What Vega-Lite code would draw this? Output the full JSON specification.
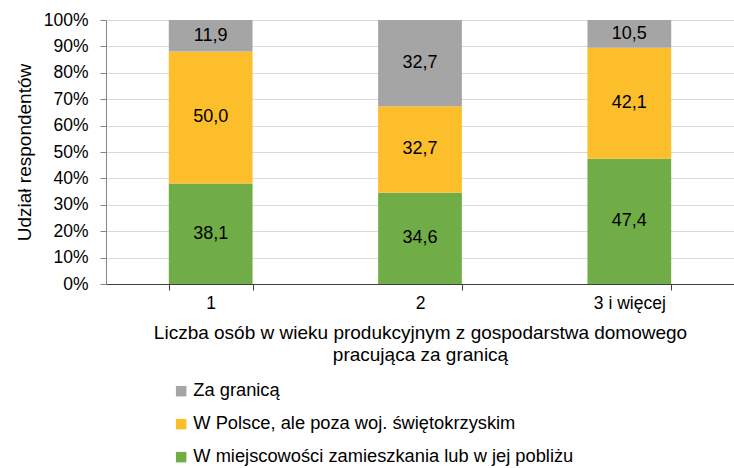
{
  "$schema": "https://vega.github.io/schema/vega-lite/v6.json",
  "autosize": {"type": "none"},
  "width": 628,
  "height": 264,
  "padding": {"left": 106, "top": 20, "right": 0, "bottom": 184},
  "background": "white",
  "config": {
    "font": "Liberation Sans",
    "view": {"stroke": null},
    "locale": {"number": {"decimal": ",", "thousands": " ", "grouping": [3], "currency": ["", " zł"]}},
    "axis": {"labelFont": "Liberation Sans", "titleFont": "Liberation Sans", "labelFontSize": 17.5, "titleFontSize": 19, "labelColor": "#000000", "titleColor": "#000000", "titleFontWeight": "normal", "labelOverlap": false, "labelLimit": 0},
    "legend": {"labelFont": "Liberation Sans", "labelFontSize": 18.3, "labelColor": "#000000", "labelLimit": 0}
  },
  "data": {
    "values": [
      {"grupa": "1", "miejsce": "W miejscowości zamieszkania lub w jej pobliżu", "kolejnosc": 1, "udzial": 38.1},
      {"grupa": "1", "miejsce": "W Polsce, ale poza woj. świętokrzyskim", "kolejnosc": 2, "udzial": 50.0},
      {"grupa": "1", "miejsce": "Za granicą", "kolejnosc": 3, "udzial": 11.9},
      {"grupa": "2", "miejsce": "W miejscowości zamieszkania lub w jej pobliżu", "kolejnosc": 1, "udzial": 34.6},
      {"grupa": "2", "miejsce": "W Polsce, ale poza woj. świętokrzyskim", "kolejnosc": 2, "udzial": 32.7},
      {"grupa": "2", "miejsce": "Za granicą", "kolejnosc": 3, "udzial": 32.7},
      {"grupa": "3 i więcej", "miejsce": "W miejscowości zamieszkania lub w jej pobliżu", "kolejnosc": 1, "udzial": 47.4},
      {"grupa": "3 i więcej", "miejsce": "W Polsce, ale poza woj. świętokrzyskim", "kolejnosc": 2, "udzial": 42.1},
      {"grupa": "3 i więcej", "miejsce": "Za granicą", "kolejnosc": 3, "udzial": 10.5}
    ]
  },
  "transform": [
    {"stack": "udzial", "groupby": ["grupa"], "sort": [{"field": "kolejnosc", "order": "ascending"}], "offset": "normalize", "as": ["y0", "y1"]},
    {"calculate": "(datum.y0 + datum.y1) / 2", "as": "ymid"}
  ],
  "encoding": {
    "x": {
      "field": "grupa",
      "type": "nominal",
      "sort": ["1", "2", "3 i więcej"],
      "scale": {"paddingInner": 0.6, "paddingOuter": 0.3},
      "axis": {
        "title": ["Liczba osób w wieku produkcyjnym z gospodarstwa domowego", "pracująca za granicą"],
        "labelAngle": 0,
        "tickBand": "extent",
        "domainColor": "#404040",
        "tickColor": "#404040",
        "tickSize": 6,
        "labelPadding": 4,
        "titlePadding": 12,
        "titleLineHeight": 22,
        "grid": false
      }
    }
  },
  "layer": [
    {
      "mark": {"type": "bar"},
      "encoding": {
        "y": {
          "field": "y0",
          "type": "quantitative",
          "scale": {"domain": [0, 1], "nice": false},
          "axis": {
            "title": "Udział respondentów",
            "format": ".0%",
            "values": [0, 0.1, 0.2, 0.3, 0.4, 0.5, 0.6, 0.7, 0.8, 0.9, 1],
            "labelOverlap": false,
            "grid": true,
            "gridColor": "#D9D9D9",
            "gridWidth": 1,
            "domainColor": "#868686",
            "tickColor": "#868686",
            "tickSize": 6,
            "labelPadding": 12,
            "titlePadding": 9
          }
        },
        "y2": {"field": "y1"},
        "color": {
          "field": "miejsce",
          "type": "nominal",
          "scale": {
            "domain": ["Za granicą", "W Polsce, ale poza woj. świętokrzyskim", "W miejscowości zamieszkania lub w jej pobliżu"],
            "range": ["#A5A5A5", "#FDBE2C", "#70AD47"]
          },
          "legend": {
            "title": null,
            "orient": "none",
            "legendX": 66,
            "legendY": 362,
            "direction": "vertical",
            "symbolType": "square",
            "symbolSize": 110,
            "symbolStrokeWidth": 0,
            "labelOffset": 3,
            "rowPadding": 14,
            "padding": 0
          }
        }
      }
    },
    {
      "mark": {"type": "text", "color": "#000000", "fontSize": 18, "font": "Liberation Sans"},
      "encoding": {
        "y": {
          "field": "ymid",
          "type": "quantitative",
          "axis": {
            "title": "Udział respondentów",
            "format": ".0%",
            "values": [0, 0.1, 0.2, 0.3, 0.4, 0.5, 0.6, 0.7, 0.8, 0.9, 1],
            "labelOverlap": false,
            "grid": true,
            "gridColor": "#D9D9D9",
            "gridWidth": 1,
            "domainColor": "#868686",
            "tickColor": "#868686",
            "tickSize": 6,
            "labelPadding": 12,
            "titlePadding": 9
          }
        },
        "text": {"field": "udzial", "type": "quantitative", "format": ".1f"}
      }
    }
  ]
}
